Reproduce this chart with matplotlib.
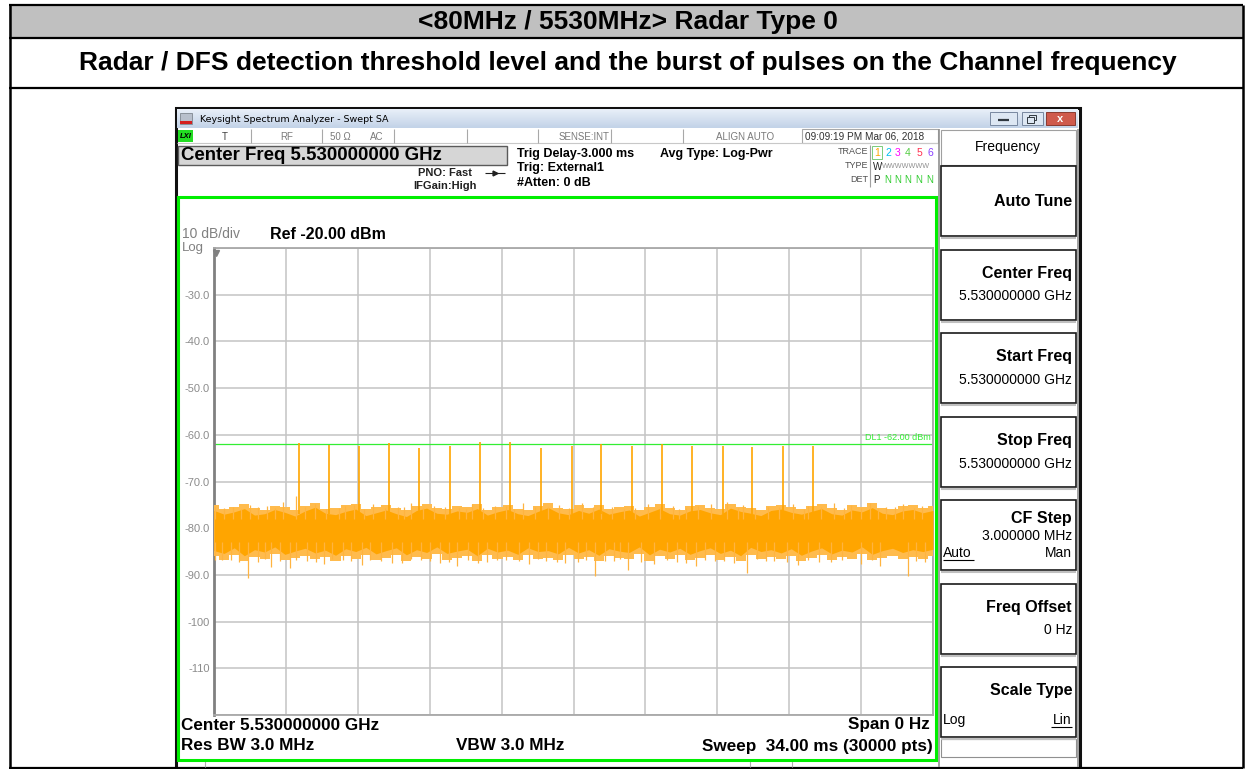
import numpy as np
import matplotlib.pyplot as plt
from matplotlib.patches import Rectangle
from matplotlib.colors import LinearSegmentedColormap

plt.rcParams['font.family'] = ['Liberation Sans', 'DejaVu Sans']

sweep_ms = 34.0
ref_level = -20.0
display_line = -62.0

# burst of 18 pulses (time in ms, peak level in dBm)
pulse_t = [4.025, 5.431, 6.838, 8.287, 9.707, 11.161, 12.567, 14.017, 15.456,
           16.924, 18.311, 19.746, 21.186, 22.606, 24.055, 25.462, 26.915, 28.317]
pulse_db = [-61.8, -62.1, -62.5, -61.8, -62.9, -62.4, -61.6, -61.6, -62.9,
            -62.4, -61.9, -62.3, -61.9, -62.3, -62.3, -62.7, -62.3, -62.3]

# noise floor: dense core and lighter fringe (upper / lower edges)
noise_hi = [-76.2, -77.0, -76.5, -75.8, -77.2, -76.9, -76.0, -76.6, -77.4, -76.3, -75.5, -76.8,
            -77.1, -76.4, -75.9, -77.3, -76.7, -76.1, -76.9, -77.5, -76.2, -75.7, -76.8, -77.0,
            -76.3, -76.6, -75.8, -77.2, -76.5, -76.0, -76.9, -77.3, -76.4, -75.6, -76.7, -77.1,
            -76.2, -76.8, -75.9, -77.0, -76.5, -76.1, -77.4, -76.6, -75.8, -76.9, -77.2, -76.3,
            -76.0, -76.7, -77.1, -75.7, -76.4, -76.8, -77.3, -76.2, -75.9, -76.6, -77.0, -76.4,
            -75.8, -76.9, -77.2, -76.1, -76.5, -75.6, -76.8, -77.1, -76.3, -76.0, -76.7, -76.2]
noise_lo = [-84.8, -85.4, -84.2, -85.9, -84.6, -85.1, -84.0, -85.6, -84.9, -84.3, -85.3, -84.7,
            -85.8, -84.4, -85.0, -84.1, -85.5, -84.8, -84.2, -85.7, -84.6, -85.2, -84.0, -85.4,
            -84.9, -84.5, -85.9, -84.3, -85.1, -84.7, -85.6, -84.2, -85.0, -84.8, -85.5, -84.1,
            -85.3, -84.6, -85.8, -84.4, -84.9, -85.2, -84.0, -85.7, -84.5, -85.1, -84.3, -85.6,
            -84.8, -84.2, -85.4, -84.7, -85.9, -84.1, -85.0, -84.6, -85.3, -84.4, -85.8, -84.9,
            -84.2, -85.5, -84.7, -85.1, -84.0, -85.6, -84.8, -84.3, -85.2, -84.6, -85.0, -84.5]
fringe_hi = [-75.0, -75.9, -75.4, -74.8, -75.7, -76.0, -75.2, -75.5, -76.1, -75.3, -74.7, -75.8,
             -75.6, -75.1, -74.9, -75.9, -75.4, -75.0, -75.7, -76.2, -75.3, -74.8, -75.6, -75.9,
             -75.2, -75.5, -74.9, -76.0, -75.4, -75.1, -75.8, -76.1, -75.3, -74.6, -75.6, -75.9,
             -75.1, -75.7, -75.0, -75.8, -75.4, -75.2, -76.0, -75.5, -74.9, -75.7, -76.0, -75.3,
             -75.1, -75.6, -75.9, -74.8, -75.4, -75.7, -76.1, -75.2, -75.0, -75.5, -75.8, -75.3,
             -74.9, -75.7, -76.0, -75.1, -75.4, -74.7, -75.6, -75.9, -75.3, -75.0, -75.6, -75.2]
fringe_lo = [-86.0, -86.8, -85.7, -87.1, -86.2, -86.6, -85.6, -86.9, -86.4, -85.9, -86.7, -86.1,
             -87.0, -85.9, -86.5, -85.7, -86.8, -86.3, -85.8, -87.0, -86.1, -86.6, -85.6, -86.9,
             -86.4, -86.0, -87.1, -85.8, -86.6, -86.2, -86.9, -85.8, -86.5, -86.3, -86.8, -85.7,
             -86.7, -86.1, -87.0, -85.9, -86.4, -86.7, -85.6, -87.0, -86.0, -86.6, -85.8, -86.9,
             -86.3, -85.8, -86.8, -86.2, -87.1, -85.7, -86.5, -86.1, -86.7, -85.9, -87.0, -86.4,
             -85.8, -86.9, -86.2, -86.6, -85.6, -86.9, -86.3, -85.9, -86.7, -86.1, -86.5, -86.0]

# single noise peaks sticking out of the band
spike_up_t = [0.05, 0.9, 1.7, 2.5, 3.24, 3.87, 4.77, 5.9, 6.6, 7.5, 8.7, 9.3, 10.4, 11.6, 12.2,
              13.3, 14.6, 15.2, 16.3, 17.4, 18.8, 19.4, 20.5, 21.7, 22.3, 23.5, 24.27, 25.0,
              26.2, 27.4, 28.1, 29.3, 30.1, 31.0, 31.8, 32.6, 33.5,
              0.45, 1.3, 2.1, 2.9, 4.3, 5.3, 6.2, 7.1, 8.1, 9.0, 9.9, 10.9, 11.9, 12.7, 13.8,
              14.2, 15.8, 16.8, 17.9, 18.3, 19.9, 21.1, 22.0, 22.9, 24.8, 25.6, 26.7, 27.9,
              28.7, 29.8, 30.6, 31.4, 32.2, 33.1]
spike_up_db = [-75.2, -75.5, -75.0, -75.3, -74.3, -73.0, -74.8, -75.6, -75.1, -74.9, -75.4, -74.6,
               -75.2, -75.7, -74.8, -75.3, -74.7, -75.5, -75.0, -74.6, -75.4, -75.8, -74.9, -75.2,
               -75.6, -74.8, -74.3, -75.1, -75.5, -74.9, -75.3, -74.7, -75.0, -74.6, -75.4, -74.8,
               -75.2,
               -75.6, -75.9, -75.4, -75.7, -75.5, -75.8, -75.3, -75.9, -75.6, -75.4, -75.7, -75.5,
               -75.8, -75.6, -75.3, -75.9, -75.5, -75.7, -75.4, -75.8, -75.6, -75.5, -75.9, -75.3,
               -75.7, -75.6, -75.4, -75.8, -75.5, -75.7, -75.6, -75.9, -75.4, -75.7]
spike_dn_t = [0.03, 0.8, 1.61, 2.1, 2.68, 3.58, 4.4, 5.2, 6.1, 7.0, 7.9, 8.9, 9.8, 10.7, 11.5,
              12.9, 13.8, 14.9, 15.7, 16.6, 17.2, 18.0, 18.9, 19.6, 20.8, 21.9, 22.8, 23.7,
              24.6, 25.2, 26.5, 27.6, 28.6, 29.7, 30.6, 31.5, 32.8, 33.6,
              0.4, 1.2, 2.4, 3.1, 3.9, 4.8, 5.6, 6.5, 7.4, 8.4, 9.3, 10.2, 11.1, 12.0, 12.5,
              13.4, 14.4, 15.3, 16.2, 17.6, 18.5, 19.2, 20.2, 21.4, 22.3, 23.2, 24.1, 25.7,
              26.1, 27.1, 28.1, 29.2, 31.1, 33.2]
spike_dn_db = [-86.9, -86.8, -90.7, -87.2, -88.4, -88.5, -87.0, -87.6, -86.9, -87.8, -87.1, -87.5,
               -86.8, -87.4, -88.0, -87.2, -86.9, -87.7, -87.0, -87.5, -87.3, -90.2, -87.0, -89.0,
               -87.6, -87.2, -88.0, -87.1, -87.4, -89.5, -87.0, -87.8, -87.3, -86.9, -87.6, -88.1,
               -90.2, -87.2,
               -86.8, -87.2, -86.6, -87.0, -86.9, -87.3, -86.7, -87.1, -86.8, -87.4, -86.6, -87.0,
               -87.2, -86.8, -87.5, -86.9, -87.1, -86.7, -87.3, -86.8, -87.0, -86.6, -87.2, -86.9,
               -87.4, -86.8, -87.1, -86.7, -87.0, -87.3, -86.9, -87.2, -86.8, -87.1]

ytick_labels = ['', '-110', '-100', '-90.0', '-80.0', '-70.0', '-60.0', '-50.0', '-40.0', '-30.0', '']

softkeys = [('Auto Tune', None), ('Center Freq', '5.530000000 GHz'), ('Start Freq', '5.530000000 GHz'),
            ('Stop Freq', '5.530000000 GHz'), ('CF Step', '3.000000 MHz'), ('Freq Offset', '0 Hz'),
            ('Scale Type', None)]

# ---- figure in pixel coordinates ----
W, H = 1245, 769
fig = plt.figure(figsize=(W / 100, H / 100), dpi=100)
bg = fig.add_axes([0, 0, 1, 1])
bg.axis('off')


def box(x0, y0, x1, y1, fc='none', ec='black', lw=1.0, z=1):
    bg.add_patch(Rectangle((x0, y0), x1 - x0, y1 - y0, facecolor=fc, edgecolor=ec, linewidth=lw, zorder=z))


def line(xs, ys, c='black', lw=1.0, z=2):
    bg.plot(xs, ys, color=c, lw=lw, zorder=z, solid_capstyle='butt')


def txt(x, y, s, size=8, weight='normal', ha='left', c='black', z=5, **kw):
    bg.text(x, y, s, fontsize=size, fontweight=weight, ha=ha, va='center', color=c, zorder=z, **kw)


# table around the screenshot
box(9, 5, 1243, 37, fc='#c0c0c0', ec='none', z=0.5)
for yy in (5, 37.5, 87.5, 767.5):
    line([9, 1243], [yy, yy], lw=1.6)
line([9.5, 9.5], [5, 768], lw=1.8)
line([1242.5, 1242.5], [5, 768], lw=1.8)
txt(628, 22, '<80MHz / 5530MHz> Radar Type 0', size=19, weight='bold', ha='center')
txt(628, 63, 'Radar / DFS detection threshold level and the burst of pulses on the Channel frequency',
    size=19, weight='bold', ha='center')

# analyzer window
box(175.5, 107.5, 1079.5, 769, fc='white', ec='#101010', lw=2.2, z=0.8)
tb = LinearSegmentedColormap.from_list('tb', ['#e8eff8', '#c3d3e8'])
bg.imshow(np.linspace(0, 1, 20).reshape(-1, 1), extent=(177, 1078, 128, 109), cmap=tb,
          aspect='auto', zorder=1)
box(180, 113, 192, 124, fc='#b8c0cc', ec='#707880', lw=0.5, z=2)
box(180, 121, 192, 124, fc='#d42020', ec='none', z=2.1)
txt(200, 119, 'Keysight Spectrum Analyzer - Swept SA', size=6.8, family='DejaVu Sans')
box(990, 112, 1017, 125, fc='#dde7f3', ec='#7888a0', lw=0.7, z=2)
line([998, 1009], [119.5, 119.5], c='#303840', lw=1.6, z=3)
box(1022, 112, 1043, 125, fc='#dde7f3', ec='#7888a0', lw=0.7, z=2)
box(1029, 114.5, 1036, 120, fc='none', ec='#303840', lw=0.7, z=3)
box(1027, 117, 1034, 122.5, fc='#dde7f3', ec='#303840', lw=0.7, z=3)
box(1046, 112, 1075, 125, fc='#cf5a4c', ec='#8a3a30', lw=0.7, z=2)
txt(1060.5, 118.5, 'x', size=8, weight='bold', ha='center', c='white')

# status line
line([177, 938], [143, 143], c='#c8c8c8', lw=0.8)
for xx in (251, 322, 394, 467, 538, 611, 683):
    line([xx, xx], [129, 143], c='#a8a8a8', lw=0.8)
box(802, 129, 938, 143, fc='none', ec='#a8a8a8', lw=0.8)
box(178, 130, 193, 142, fc='#22dd22', ec='none', z=2)
txt(185.5, 136, 'LXI', size=5.5, weight='bold', ha='center', style='italic')
grey = '#7a7a7a'
txt(225, 136.5, 'T', size=7, ha='center', c='#404040')
txt(287, 136.5, 'RF', size=7, ha='center', c=grey)
txt(330, 136.5, '50 \u03a9', size=7, c=grey)
txt(370, 136.5, 'AC', size=7, c=grey)
txt(609, 136.5, 'SENSE:INT', size=7, ha='right', c=grey)
txt(745, 136.5, 'ALIGN AUTO', size=7, ha='center', c=grey)
txt(805, 136.5, '09:09:19 PM Mar 06, 2018', size=7.2, c='#303030')

# settings block
box(178, 146, 507, 165, fc='#d6d6d6', ec='#5a5a5a', lw=1.0, z=1.5)
txt(181, 155.5, 'Center Freq 5.530000000 GHz', size=13.4, weight='bold')
txt(472, 173, 'PNO: Fast', size=8, weight='bold', ha='right', c='#202020')
line([485, 505], [173, 173], c='#202020', lw=0.8)
bg.plot([495], [173], marker='>', ms=3.5, color='#202020', zorder=3)
txt(477, 186, 'IFGain:High', size=8, weight='bold', ha='right', c='#202020')
txt(517, 154, 'Trig Delay-3.000 ms', size=9, weight='bold')
txt(517, 168, 'Trig: External1', size=9, weight='bold')
txt(517, 183, '#Atten: 0 dB', size=9, weight='bold')
txt(660, 153.5, 'Avg Type: Log-Pwr', size=9, weight='bold')
txt(868, 152, 'TRACE', size=6.5, ha='right', c='#505050')
txt(868, 166, 'TYPE', size=6.5, ha='right', c='#505050')
txt(868, 180, 'DET', size=6.5, ha='right', c='#505050')
line([870, 870], [145, 187], c='#a0a0a0', lw=0.8)
box(872, 146, 882, 159, fc='none', ec='#7acc7a', lw=0.7)
trace_cols = ['#ffa500', '#00c0f0', '#ff00ff', '#55cc44', '#ff3050', '#8a40ff']
for k, xx in enumerate((877, 888, 898, 908, 919, 930)):
    txt(xx, 153, str(k + 1), size=7.5, ha='center', c=trace_cols[k])
txt(873, 166.5, 'W', size=7, c='#202020')
txt(882, 166.5, 'WWWWWWW', size=5.2, c='#909090')
txt(873, 180, 'P', size=7, c='#202020')
for xx in (888, 898, 908, 919, 930):
    txt(xx, 180, 'N', size=7, ha='center', c='#33cc33')

# graticule frame
box(178, 197, 936, 760, fc='none', ec='#00ee00', lw=2.2, z=6)
txt(182, 234, '10 dB/div', size=10, c='#808080')
txt(182, 248, 'Log', size=9.5, c='#808080')
bg.plot([216], [253], marker='v', ms=4.5, color='#808080', zorder=3)
txt(270, 234.5, 'Ref -20.00 dBm', size=11.5, weight='bold')
txt(181, 725, 'Center 5.530000000 GHz', size=12.3, weight='bold')
txt(930, 725, 'Span 0 Hz', size=12.3, weight='bold', ha='right')
txt(181, 746, 'Res BW 3.0 MHz', size=12.3, weight='bold')
txt(456, 746, 'VBW 3.0 MHz', size=12.3, weight='bold')
txt(933, 746, 'Sweep  34.00 ms (30000 pts)', size=12.3, weight='bold', ha='right')
for xx in (205, 750, 792):
    line([xx, xx], [761, 767], c='#b0b0b0', lw=0.8)

# softkey panel
line([939, 939], [129, 767], c='#909090', lw=1.2)
line([1077.5, 1077.5], [129, 767], c='#909090', lw=1.2)
box(941, 130, 1076, 165, fc='white', ec='#a0a0a0', lw=0.8)
txt(1008, 147, 'Frequency', size=10, ha='center')
for k, (label, value) in enumerate(softkeys):
    top = 166 + 83.5 * k
    box(941, top, 1076, top + 70, fc='white', ec='#1a1a1a', lw=1.2, z=1.5)
    line([941, 1076], [top + 72, top + 72], c='#c0c0c0', lw=1.5)
    if label == 'Auto Tune':
        txt(1072, top + 35, label, size=11.5, weight='bold', ha='right')
        continue
    txt(1072, top + 19 if label == 'CF Step' else top + 24, label, size=11.5, weight='bold', ha='right')
    if label == 'CF Step':
        txt(1072, top + 36, value, size=10, ha='right')
        txt(943, top + 53, 'Auto', size=10)
        line([943, 974], [top + 60, top + 60], lw=0.8)
        txt(1072, top + 53, 'Man', size=10, ha='right')
    elif label == 'Scale Type':
        txt(943, top + 53, 'Log', size=10)
        txt(1072, top + 53, 'Lin', size=10, ha='right')
        line([1051, 1072], [top + 60, top + 60], lw=0.8)
    else:
        txt(1072, top + 47, value, size=10, ha='right')
box(941, 739, 1076, 757, fc='white', ec='#909090', lw=0.8)

bg.set_xlim(0, W)
bg.set_ylim(H, 0)

# ---- the trace itself ----
ax = fig.add_axes([214 / W, 1 - 715 / H, (933 - 214) / W, (715 - 248) / H])
ax.patch.set_visible(False)
ax.set_xlim(0, sweep_ms)
ax.set_ylim(ref_level - 100, ref_level)
ax.set_xticks(np.linspace(0, sweep_ms, 11))
ax.set_xticklabels([])
ax.set_yticks(np.arange(-120, -19, 10))
ax.set_yticklabels(ytick_labels)
ax.grid(True, color='#c4c4c4', lw=1.1)
ax.set_axisbelow(True)
ax.tick_params(length=0, labelsize=8, labelcolor='#8c8c8c', pad=3)
for s in ax.spines.values():
    s.set_color('#a8a8a8')
    s.set_linewidth(1.3)
ax.spines['left'].set_color('#808080')
ax.spines['left'].set_linewidth(2)

t_env = np.linspace(0, sweep_ms, len(noise_hi))
ax.fill_between(t_env, fringe_lo, fringe_hi, step='mid', color='#ffbb4d', lw=0, zorder=3)
ax.fill_between(t_env, noise_lo, noise_hi, color='#ffa500', lw=0, zorder=3)
ax.vlines(spike_up_t, -78, spike_up_db, color='#ffb440', lw=0.9, zorder=3)
ax.vlines(spike_dn_t, spike_dn_db, -83, color='#ffb440', lw=0.9, zorder=3)
ax.vlines(pulse_t, -77, pulse_db, color='#ffa500', lw=1.2, zorder=4)
ax.axhline(display_line, color='#33ee33', lw=0.9, zorder=2)
ax.text(33.9, display_line + 0.4, 'DL1 -62.00 dBm', fontsize=6.5, color='#33ee33', ha='right', va='bottom')

fig.savefig('out.png', dpi=100)
